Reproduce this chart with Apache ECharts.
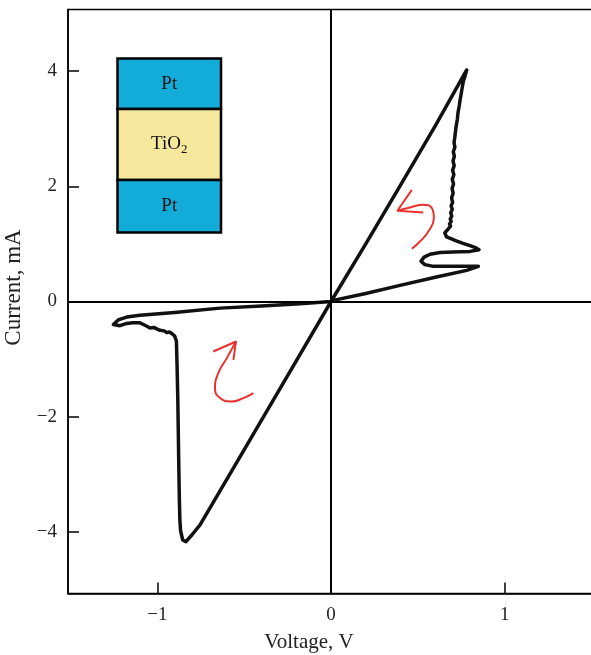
<!DOCTYPE html>
<html>
<head>
<meta charset="utf-8">
<script src="https://cdn.jsdelivr.net/npm/echarts@6/dist/echarts.min.js"></script>
<style>
html,body{margin:0;padding:0;background:#fff;}
#chart{width:591px;height:655px;}
</style>
</head>
<body>
<div id="chart"></div>
<script>
// I–V loop (voltage in V, current in mA), traced in order
const voltage = [0, 0.200, 0.400, 0.600, 0.781,
  0.770, 0.762, 0.752, 0.743, 0.738, 0.731, 0.727, 0.720, 0.716, 0.712, 0.708, 0.713, 0.704, 0.710, 0.702, 0.709, 0.700, 0.707, 0.698, 0.705, 0.697, 0.703, 0.694, 0.700, 0.691, 0.698, 0.689, 0.695, 0.686, 0.692, 0.682, 0.688, 0.678, 0.672, 0.664, 0.655, 0.645,
  0.665, 0.690, 0.724, 0.760, 0.800, 0.835, 0.852, 0.800, 0.700, 0.627, 0.570, 0.536, 0.518, 0.540, 0.589, 0.700, 0.800, 0.848,
  0.781, 0.600, 0.397, 0.200, 0.013, 0,
  -0.178, -0.400, -0.639, -0.900, -1.100, -1.176, -1.225, -1.253,
  -1.215, -1.176, -1.140, -1.100, -1.080, -1.060, -1.042, -1.020, -1.000, -0.985, -0.960, -0.945, -0.930, -0.915, -0.900, -0.890,
  -0.886, -0.882, -0.879, -0.876, -0.873, -0.870, -0.866, -0.854, -0.835, -0.800, -0.754,
  -0.600, -0.400, -0.200, 0];
const current = [0, 1.00, 2.02, 3.05, 4.02,
  3.90, 3.83, 3.66, 3.50, 3.40, 3.28, 3.16, 3.04, 2.94, 2.84, 2.76, 2.68, 2.60, 2.52, 2.44, 2.36, 2.28, 2.20, 2.12, 2.04, 1.96, 1.88, 1.80, 1.72, 1.66, 1.60, 1.54, 1.48, 1.43, 1.39, 1.35, 1.31, 1.28, 1.25, 1.22, 1.19, 1.16,
  1.12, 1.09, 1.05, 1.01, 0.97, 0.93, 0.90, 0.87, 0.86, 0.85, 0.82, 0.77, 0.70, 0.64, 0.61, 0.61, 0.61, 0.61,
  0.54, 0.42, 0.28, 0.14, 0.02, 0,
  -0.04, -0.08, -0.115, -0.19, -0.24, -0.27, -0.32, -0.40,
  -0.42, -0.38, -0.37, -0.37, -0.40, -0.43, -0.46, -0.45, -0.48, -0.50, -0.51, -0.54, -0.53, -0.56, -0.60, -0.69,
  -1.13, -1.70, -2.29, -2.90, -3.44, -3.80, -3.98, -4.14, -4.17, -4.05, -3.88,
  -3.09, -2.06, -1.03, 0];

// Hand-drawn direction arrows (data coordinates)
const arrowUpperShaftX = [0.382, 0.455, 0.531, 0.580, 0.592, 0.560, 0.512, 0.465];
const arrowUpperShaftY = [1.575, 1.632, 1.679, 1.622, 1.448, 1.215, 1.042, 0.915];
const arrowUpperHeadX = [0.465, 0.382, 0.531];
const arrowUpperHeadY = [1.939, 1.575, 1.545];
const arrowLowerShaftX = [-0.547, -0.600, -0.649, -0.668, -0.639, -0.572, -0.505, -0.447];
const arrowLowerShaftY = [-0.694, -0.983, -1.243, -1.503, -1.677, -1.736, -1.677, -1.590];
const arrowLowerHeadX = [-0.678, -0.547, -0.562];
const arrowLowerHeadY = [-0.868, -0.694, -1.012];

const xTicks = [-1, 1];
const xLabels = [-1, 0, 1];
const yTicks = [-4, -2, 2, 4];
const yLabels = [-4, -2, 0, 2, 4];

const layers = ['Pt', 'TiO{s|2}', 'Pt'];

function zip(a, b) { return a.map((v, i) => [v, b[i]]); }
const serif = '"Liberation Serif", "DejaVu Serif", serif';
const minus = v => String(v).replace('-', '\u2212');
const red = '#e8322f';

const chart = echarts.init(document.getElementById('chart'), null, {renderer: 'canvas'});

function arrowSeries(xs, ys, smooth) {
  return {
    type: 'line', data: zip(xs, ys), smooth: smooth, symbol: 'none', silent: true,
    lineStyle: {color: red, width: 2}, z: 4
  };
}

// inset stack geometry (pixels)
const bx = 117.5, bw = 103.5;
const by = [58.5, 109, 180, 232.5];
const colors = ['#13acd9', '#f5e89c', '#13acd9'];
const inset = [];
for (let i = 0; i < 3; i++) {
  inset.push({
    type: 'rect', shape: {x: bx, y: by[i], width: bw, height: by[i + 1] - by[i]},
    style: {fill: colors[i], stroke: '#000', lineWidth: 2.5}, z: 10
  });
  inset.push({
    type: 'text', x: bx + bw / 2, y: (by[i] + by[i + 1]) / 2, z: 11,
    style: {
      text: layers[i], fill: '#111', font: '19px ' + serif,
      align: 'center', verticalAlign: 'middle',
      rich: {s: {fontSize: 13, fontFamily: serif, fill: '#111', padding: [10, 0, 0, 0]}}
    }
  });
}

chart.setOption({
  animation: false,
  backgroundColor: '#fff',
  grid: {left: 68, right: -10, top: 9.5, bottom: 61.5, containLabel: false, outerBoundsMode: 'none',
    show: true, borderColor: '#000', borderWidth: 1.5},
  xAxis: {
    type: 'value', min: -1.514, max: 1.554, position: 'bottom',
    axisLine: {show: true, onZero: false, lineStyle: {color: '#000', width: 1.5}},
    axisTick: {show: true, inside: true, length: 11, customValues: xTicks, lineStyle: {color: '#000', width: 1.5}},
    axisLabel: {customValues: xLabels, formatter: minus, fontFamily: serif, fontSize: 19, color: '#222', margin: 12},
    splitLine: {show: false},
    name: 'Voltage, V', nameLocation: 'middle', nameGap: 38,
    nameTextStyle: {fontFamily: serif, fontSize: 21, color: '#222', padding: [0, 51, 0, 0]}
  },
  yAxis: {
    type: 'value', min: -5.07, max: 5.07,
    axisLine: {show: true, onZero: false, lineStyle: {color: '#000', width: 1.5}},
    axisTick: {show: true, inside: true, length: 11, customValues: yTicks, lineStyle: {color: '#000', width: 1.5}},
    axisLabel: {customValues: yLabels, formatter: minus, fontFamily: serif, fontSize: 19, color: '#222', margin: 11},
    splitLine: {show: false},
    name: 'Current, mA', nameLocation: 'middle', nameGap: 34,
    nameTextStyle: {fontFamily: serif, fontSize: 23, color: '#222', padding: [0, 0, 0, 28]}
  },
  series: [
    {
      type: 'line', data: zip(voltage, current), symbol: 'none', smooth: false, silent: true,
      lineStyle: {color: '#111', width: 3.5, join: 'round', cap: 'round'}, z: 3,
      markLine: {
        silent: true, symbol: 'none', label: {show: false},
        lineStyle: {color: '#000', width: 2, type: 'solid'},
        data: [{xAxis: 0}, {yAxis: 0}]
      }
    },
    arrowSeries(arrowUpperShaftX, arrowUpperShaftY, true),
    arrowSeries(arrowUpperHeadX, arrowUpperHeadY, false),
    arrowSeries(arrowLowerShaftX, arrowLowerShaftY, true),
    arrowSeries(arrowLowerHeadX, arrowLowerHeadY, false)
  ],
  graphic: inset
});
</script>
</body>
</html>
